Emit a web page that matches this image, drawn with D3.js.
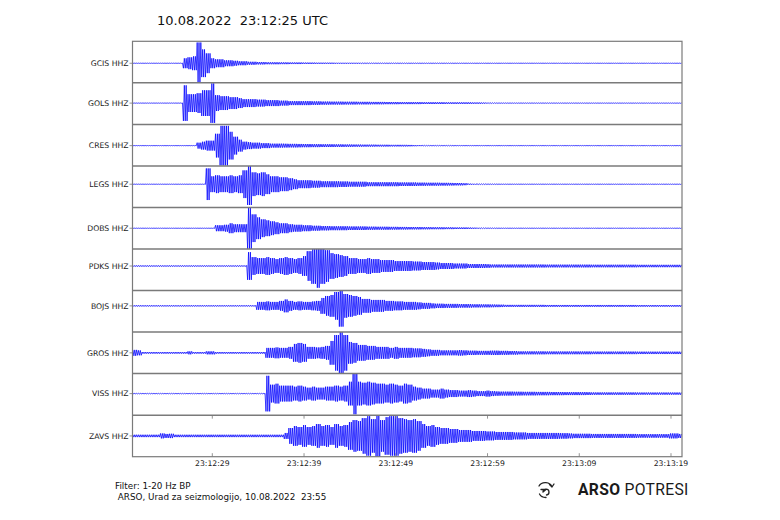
<!DOCTYPE html>
<html><head><meta charset="utf-8">
<script src="https://cdn.jsdelivr.net/npm/d3@7"></script>
<style>body{margin:0;background:#fff}svg{display:block}</style>
</head><body>
<svg id="c" width="780" height="520"></svg>
<script>
// ---------- DATA ----------
const title = "10.08.2022  23:12:25 UTC";
const stations = ["GCIS HHZ","GOLS HHZ","CRES HHZ","LEGS HHZ","DOBS HHZ","PDKS HHZ","BOJS HHZ","GROS HHZ","VISS HHZ","ZAVS HHZ"];
// time window (seconds after 23:12:00) and envelope bin size (s)
const timeStart = 20.3, timeEnd = 80.2;
const binStart = 20.3, binWidth = 0.5;
const tickSeconds = [29, 39, 49, 59, 69, 79];
const tickLabels = ["23:12:29","23:12:39","23:12:49","23:12:59","23:13:09","23:13:19"];
const footer1 = "Filter: 1-20 Hz BP";
const footer2 = " ARSO, Urad za seizmologijo, 10.08.2022  23:55";
// trace mean offset (amplitude units)
const offsets = [-1.2, 0.5, -0.5, 2.5, 0, 3.8, 5.5, 0, 0.8, 0];
// peak amplitude envelope per 0.5 s bin (amplitude units; 21 = half panel)
const gcis = [
0.15,0.15,0.15,0.15,0.15,0.15,0.15,0.15,0.15,0.15,
0.15,5,6,7,21,14,10,5,4,4,
3,3,2.5,2,2,1.5,1.5,1.2,1.2,1,
1,1,0.9,0.9,0.8,0.8,0.8,0.7,0.7,0.7,
0.6,0.6,0.6,0.6,0.5,0.5,0.5,0.5,0.5,0.5,
0.4,0.3,0.3,0.3,0.3,0.3,0.3,0.3,0.3,0.3,
0.25,0.25,0.25,0.25,0.25,0.25,0.25,0.25,0.25,0.25,
0.2,0.2,0.2,0.2,0.2,0.2,0.2,0.2,0.2,0.2,
0.15,0.15,0.15,0.15,0.15,0.15,0.15,0.15,0.15,0.15,
0.15,0.15,0.15,0.15,0.15,0.15,0.15,0.15,0.15,0.15,
0.15,0.15,0.15,0.15,0.15,0.15,0.15,0.15,0.15,0.15,
0.15,0.15,0.15,0.15,0.15,0.15,0.15,0.15,0.15,0.15];
const gols = [
0.15,0.15,0.15,0.15,0.15,0.15,0.15,0.15,0.15,0.15,
0.15,18,9,9,10,13,13,20,8,7,
7,6,6,5,4,4,4,3.5,3.5,3,
3,3,2.5,2.5,2,2,2,2,2,1.8,
1.8,1.6,1.6,1.5,1.5,1.5,1.4,1.4,1.4,1.3,
1.3,1.3,1.2,1.2,1.2,1.1,1.1,1.1,1,1,
1,1,1,0.9,0.9,0.9,0.9,0.9,0.8,0.8,
0.8,0.8,0.8,0.8,0.7,0.7,0.6,0.5,0.4,0.3,
0.25,0.25,0.25,0.25,0.25,0.25,0.25,0.25,0.25,0.25,
0.25,0.25,0.25,0.25,0.25,0.25,0.25,0.25,0.25,0.25,
0.2,0.2,0.2,0.2,0.2,0.2,0.2,0.2,0.2,0.2,
0.2,0.2,0.2,0.2,0.2,0.2,0.2,0.2,0.2,0.2];
const cres = [
0.15,0.15,0.15,0.15,0.15,0.15,0.15,0.15,0.15,0.15,
0.15,0.15,0.15,0.15,3,4,5,5,12,20,
20,14,9,6,4,3.5,3,3,2.5,2.5,
2,2,2,1.9,1.8,1.8,1.7,1.6,1.6,1.5,
1.5,1.4,1.4,1.4,1.3,1.3,1.2,1.2,1.1,1.1,
1,1,1,0.9,0.9,0.9,0.8,0.8,0.8,0.8,
0.7,0.6,0.5,0.4,0.3,0.3,0.3,0.3,0.3,0.3,
0.2,0.2,0.2,0.2,0.2,0.2,0.2,0.2,0.2,0.2,
0.2,0.2,0.2,0.2,0.2,0.2,0.2,0.2,0.2,0.2,
0.2,0.2,0.2,0.2,0.2,0.2,0.2,0.2,0.2,0.2,
0.2,0.2,0.2,0.2,0.2,0.2,0.2,0.2,0.2,0.2,
0.2,0.2,0.2,0.2,0.2,0.2,0.2,0.2,0.2,0.2];
const legs = [
0.15,0.15,0.15,0.15,0.15,0.15,0.15,0.15,0.15,0.15,
0.15,0.15,0.15,0.15,0.15,0.15,16,8,9,8,
8,9,8,9,14,21,12,11,12,10,
8,8,7,7,6,5,4,4,4,3.5,
3.5,3,3,3,3,2.8,2.8,2.5,2.5,2.5,
2.5,2,2,2,2,2,2,2,1.8,1.8,
1.8,1.8,1.6,1.6,1.5,1.5,1.5,1.4,1.4,1.3,
1.2,1.2,1,0.6,0.5,0.4,0.4,0.3,0.3,0.3,
0.2,0.2,0.2,0.2,0.2,0.2,0.2,0.2,0.2,0.2,
0.2,0.2,0.2,0.2,0.2,0.2,0.2,0.2,0.2,0.2,
0.2,0.2,0.2,0.2,0.2,0.2,0.2,0.2,0.2,0.2,
0.2,0.2,0.2,0.2,0.2,0.2,0.2,0.2,0.2,0.2];
const dobs = [
0.15,0.15,0.15,0.15,0.15,0.15,0.15,0.15,0.15,0.15,
0.15,0.15,0.15,0.15,0.15,0.15,0.15,0.15,3,3,
3.5,5,4,4,4,21,14,11,9,8,
7,6,5,5,4,3.5,3.5,3,3,2.5,
2.5,2.2,2.2,2,2,2,2,1.8,1.8,1.8,
1.8,1.6,1.6,1.5,1.5,1.5,1.4,1.4,1.3,1.3,
1.2,1.2,1.2,1.1,1.1,1,1,1,0.9,0.9,
0.8,0.8,0.8,0.7,0.6,0.5,0.4,0.3,0.3,0.3,
0.2,0.2,0.2,0.2,0.2,0.2,0.2,0.2,0.2,0.2,
0.2,0.2,0.2,0.2,0.2,0.2,0.2,0.2,0.2,0.2,
0.2,0.2,0.2,0.2,0.2,0.2,0.2,0.2,0.2,0.2,
0.2,0.2,0.2,0.2,0.2,0.2,0.2,0.2,0.2,0.2];
const pdks = [
0.6,0.6,0.6,0.6,0.6,0.6,0.6,0.6,0.6,0.6,
0.6,0.6,0.6,0.6,0.6,0.6,0.6,0.6,0.6,0.6,
0.6,0.6,0.6,0.6,0.6,14,9,8,8,9,
8,7,8,9,8,7,8,10,15,18,
22,18,16,13,12,11,10,8,8,7,
7,8,7,7,6,6,6,5,5,5,
5,4.5,4.5,4,4,4,3.5,3,3,3,
2.5,2.5,2.5,2,2,2,2,1.8,1.5,1.5,
1.5,1.5,1.5,1.5,1.5,1.5,1.5,1.5,1.5,1.5,
1.4,1.4,1.4,1.4,1.4,1.4,1.4,1.4,1.4,1.4,
1.3,1.3,1.3,1.3,1.3,1.3,1.3,1.3,1.3,1.3,
1.2,1.2,1.2,1.2,1.2,1.2,1.2,1.2,1.2,1.2];
const bojs = [
0.6,0.6,0.6,0.6,0.6,0.6,0.6,0.6,0.6,0.6,
0.6,0.6,0.6,0.6,0.6,0.6,0.6,0.6,0.6,0.6,
0.6,0.6,0.6,0.6,0.6,0.6,0.6,4,4,4.5,
4,4,5,6.5,5,4,4.5,4,4,4.5,
5,8,10,11,14,21,12,11,10,9,
7,7,6,6,6,5,5,4.5,4.5,4,
4,4,3.5,3,3,2.5,2.2,2.2,2,2,
2,1.8,1.8,1.8,1.6,1.6,1.5,1.5,1.4,1.3,
1.2,1,1,1,1,1,1,1,1,1,
0.9,0.9,0.9,0.9,0.9,0.9,0.9,0.9,0.9,0.9,
0.9,0.9,0.9,0.9,0.9,0.9,0.9,0.9,0.9,0.9,
0.8,0.8,0.8,0.8,0.8,0.8,0.8,0.8,0.8,0.8];
const gros = [
3,2.5,0.8,0.8,0.8,0.8,0.8,0.8,0.8,0.8,
0.8,0.8,1.5,0.8,0.8,0.8,1.5,1.5,0.8,0.8,
0.8,0.8,0.8,0.8,0.8,0.8,0.8,0.8,0.8,5,
5,5.5,5,5,6,9,10,9,6,6,
5.5,6,7,12,18,21,18,11,10,8,
8,7,7,6,6,6,5,6,5,5,
5,4.5,4.5,4,3.5,3,3,2.5,2.5,2.5,
2.5,2.8,2.5,2.2,2.2,2,2,2,2.2,2.2,
2,2,1.8,1.8,1.5,1.5,1.5,1.5,1.5,1.5,
1.4,1.4,1.4,1.4,1.4,1.4,1.4,1.4,1.4,1.4,
1.3,1.3,1.3,1.3,1.3,1.3,1.3,1.3,1.3,1.3,
1.2,1.2,1.2,1.2,1.2,1.2,1.2,1.2,1.2,1.2];
const viss = [
0.3,0.3,0.3,0.3,0.3,0.3,0.3,0.3,0.3,0.3,
0.3,0.3,0.3,0.3,0.3,0.3,0.3,0.3,0.3,0.3,
0.3,0.3,0.3,0.3,0.3,0.3,0.3,0.3,0.3,18,
9,10,8,8,8,7,8,7,6,7,
6,6,7,7,8,7,8,12,21,12,
11,12,11,10,10,9,10,9,8,10,
9,7,6,5,5,4,4,5,4,3.5,
3.5,3,3,3.5,3,2.5,2.5,3,2.5,2.2,
2,2,2,1.9,1.9,1.8,1.8,1.8,1.7,1.7,
1.7,1.6,1.6,1.6,1.5,1.5,1.5,1.5,1.5,1.4,
1.2,1.2,1.2,1.2,1.2,1.2,1.2,1.2,1.2,1.2,
1.1,1.1,1.1,1.1,1.1,1.1,1.1,1.1,1.1,1.1];
const zavs = [
1.2,1.2,1.2,1.2,1.2,1.2,2.5,2,2.2,1.2,
1.2,1.2,1.2,1.2,1.2,1.2,1.2,1.2,1.2,1.2,
1.2,1.2,1.2,1.2,1.2,1.2,1.2,1.2,1.2,1.2,
1.2,1.2,1.2,3,8,10,9,11,9,10,
12,10,11,9,12,10,11,14,16,15,
18,20,17,21,16,19,20,20,18,17,
16,17,15,12,10,11,9,8,8,7,
7,6,6,6,5,5,5,4.5,4.5,4,
4,4,4,3.5,3.5,3.5,3,3,3,3,
3,3,3,2.8,2.8,2.5,2.2,2.2,2.2,2.2,
2,2,2,2,2,2,2,2,2,2,
1.8,1.8,1.8,1.8,1.8,1.8,1.8,2.5,2.5,2];
const traces = [gcis, gols, cres, legs, dobs, pdks, bojs, gros, viss, zavs];

// ---------- LAYOUT ----------
const L = 132.5, R = 682, T = 41.3, B = 456.7;
const svg = d3.select("#c");
const x = d3.scaleLinear().domain([timeStart, timeEnd]).range([L, R]);
const band = d3.scaleBand().domain(stations).range([T, B]).padding(0);
const bh = band.bandwidth();
const frameColor = "#7a7a7a";

svg.append("text").attr("x", 157).attr("y", 25)
  .style("white-space", "pre")
  .attr("font-family", "DejaVu Sans").attr("font-size", 13).attr("fill", "#111")
  .text(title);

const defs = svg.append("defs");
const subSteps = 5;

stations.forEach((s, si) => {
  const top = band(s);
  const y = d3.scaleLinear().domain([-21, 21]).range([top + bh, top]);
  const cid = "clip" + si;
  defs.append("clipPath").attr("id", cid).append("rect")
    .attr("x", L).attr("y", top).attr("width", R - L).attr("height", bh);
  const pts = [];
  let n = 0;
  traces[si].forEach((a, i) => {
    for (let k = 0; k < subSteps; k++) {
      const t = binStart + binWidth * (i + (k + 0.5) / subSteps);
      if (t > timeEnd) break;
      pts.push([t, offsets[si] + (n++ % 2 === 0 ? a : -a)]);
    }
  });
  const line = d3.line().x(d => x(d[0])).y(d => y(d[1]));
  svg.append("path").attr("clip-path", `url(#${cid})`)
    .attr("d", line(pts)).attr("fill", "none")
    .attr("stroke", "#0000ff").attr("stroke-width", 0.75);

  // left label + tick
  const yc = y(offsets[si]);
  svg.append("text").attr("x", 128.5).attr("y", yc).attr("dy", "0.35em")
    .attr("text-anchor", "end").attr("font-family", "DejaVu Sans")
    .attr("font-size", 7.7).attr("fill", "#222").text(s);
  svg.append("line").attr("x1", L - 3).attr("x2", L).attr("y1", yc).attr("y2", yc)
    .attr("stroke", frameColor).attr("stroke-width", 0.8);

  if (si > 0) {
    svg.append("line").attr("x1", L).attr("x2", R).attr("y1", top).attr("y2", top)
      .attr("stroke", frameColor).attr("stroke-width", 1.5);
  }
});

// frame
svg.append("rect").attr("x", L).attr("y", T).attr("width", R - L).attr("height", B - T)
  .attr("fill", "none").attr("stroke", frameColor).attr("stroke-width", 1.2);

// x ticks on the last panel (inward, top and bottom)
const lastTop = band(stations[stations.length - 1]);
tickSeconds.forEach((t, i) => {
  const xx = x(t);
  svg.append("line").attr("x1", xx).attr("x2", xx).attr("y1", B).attr("y2", B - 3.5)
    .attr("stroke", frameColor).attr("stroke-width", 0.8);
  svg.append("line").attr("x1", xx).attr("x2", xx).attr("y1", lastTop).attr("y2", lastTop + 3.5)
    .attr("stroke", frameColor).attr("stroke-width", 0.8);
  svg.append("text").attr("x", xx).attr("y", 466).attr("text-anchor", "middle")
    .attr("font-family", "DejaVu Sans").attr("font-size", 7.7).attr("fill", "#222")
    .text(tickLabels[i]);
});

// footer
svg.append("text").attr("x", 115).attr("y", 489).attr("font-family", "DejaVu Sans")
  .attr("font-size", 8.8).attr("fill", "#111").text(footer1);
svg.append("text").attr("x", 115).attr("y", 500)
  .style("white-space", "pre").attr("font-family", "DejaVu Sans")
  .attr("font-size", 8.8).attr("fill", "#111").text(footer2);

// logo
const logo = svg.append("g");
logo.append("path")
  .attr("d", "M539,486 A7,6 0 0 1 552,487 M549.5,484.5 L552,487 L554,484 M541,489.5 L546,489.5 L543,492 A3,3 0 1 1 546.5,495 M539.5,494 A7,6 0 0 0 546,497.5")
  .attr("fill", "none").attr("stroke", "#222").attr("stroke-width", 1.3)
  .attr("stroke-linecap", "round").attr("stroke-linejoin", "round");
const lt = logo.append("text").attr("x", 578).attr("y", 495)
  .style("white-space", "pre")
  .attr("font-family", "Roboto").attr("font-size", 15.7).attr("letter-spacing", 0.3)
  .attr("fill", "#1a1a1a");
lt.append("tspan").attr("font-weight", "bold").text("ARSO");
lt.append("tspan").attr("font-weight", "normal").text(" POTRESI");
</script>
</body></html>
